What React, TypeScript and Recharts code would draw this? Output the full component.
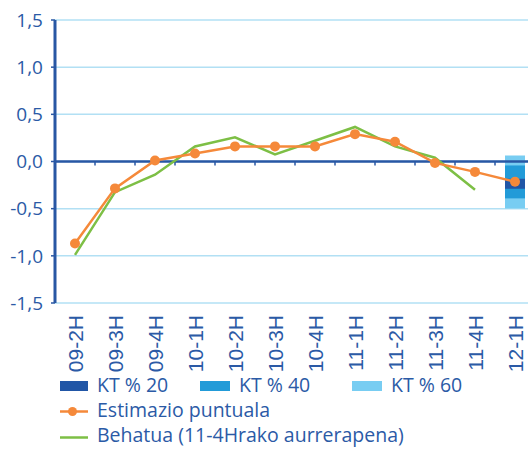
import React from 'react';
import {
  ComposedChart,
  Line,
  Bar,
  XAxis,
  YAxis,
  CartesianGrid,
  ReferenceLine,
  Legend,
} from 'recharts';

const categories = ['09-2H', '09-3H', '09-4H', '10-1H', '10-2H', '10-3H', '10-4H', '11-1H', '11-2H', '11-3H', '11-4H', '12-1H'];
const estimazio = [-0.87, -0.285, 0.01, 0.085, 0.16, 0.16, 0.16, 0.29, 0.21, -0.015, -0.11, -0.215];
const behatua: (number | null)[] = [-0.99, -0.325, -0.14, 0.16, 0.257, 0.074, 0.22, 0.366, 0.16, 0.04, -0.3, null];
const kt20: ([number, number] | null)[] = [null, null, null, null, null, null, null, null, null, null, null, [-0.289, -0.183]];
const kt40: ([number, number] | null)[] = [null, null, null, null, null, null, null, null, null, null, null, [-0.391, -0.042]];
const kt60: ([number, number] | null)[] = [null, null, null, null, null, null, null, null, null, null, null, [-0.497, 0.063]];
const yTicks = [-1.5, -1, -0.5, 0, 0.5, 1, 1.5];

const names = {
  kt20: 'KT % 20',
  kt40: 'KT % 40',
  kt60: 'KT % 60',
  est: 'Estimazio puntuala',
  obs: 'Behatua (11-4Hrako aurrerapena)',
};

const TEXT = '#2b5aa6';
const AXIS = '#2857a4';
const GRID = '#b2e0f4';
const ORANGE = '#f5893a';
const GREEN = '#7dbf45';
const C20 = '#2156a6';
const C40 = '#229bd8';
const C60 = '#78cdf2';

const data = categories.map((c, i) => ({
  cat: c,
  est: estimazio[i],
  obs: behatua[i],
  kt20: kt20[i],
  kt40: kt40[i],
  kt60: kt60[i],
}));

const XTick = (props: any) => {
  const { x, y, payload } = props;
  const ty = y + 4;
  return (
    <text
      x={x}
      y={ty}
      transform={`rotate(-90, ${x}, ${ty})`}
      textAnchor="end"
      dy="0.36em"
      fill={TEXT}
      fontSize={21}
      fontFamily="Liberation Sans, Arial, sans-serif"
    >
      {payload.value}
    </text>
  );
};

// zero line drawn as an axis with category-boundary ticks
const ZeroAxis = (props: any) => {
  const { x1, x2, y1 } = props;
  const n = categories.length;
  const step = (x2 - x1) / n;
  const ticks = [];
  for (let i = 1; i < n; i++) {
    const tx = x1 + i * step;
    ticks.push(<line key={i} x1={tx} x2={tx} y1={y1} y2={y1 + 4} stroke={AXIS} strokeWidth={1.5} />);
  }
  return (
    <g>
      <line x1={x1} x2={x2} y1={y1} y2={y1} stroke={AXIS} strokeWidth={2.5} />
      {ticks}
    </g>
  );
};

const legendText: React.CSSProperties = {
  position: 'absolute',
  color: TEXT,
  fontSize: 19.5,
  fontFamily: 'Open Sans, sans-serif',
  lineHeight: '24px',
  whiteSpace: 'nowrap',
};

const renderLegend = () => (
  <div style={{ position: 'relative', width: 528, height: 75 }}>
    <div style={{ position: 'absolute', left: 60, top: 6, width: 28, height: 10, background: C20 }} />
    <div style={{ ...legendText, left: 97, top: -2 }}>{names.kt20}</div>
    <div style={{ position: 'absolute', left: 200, top: 6, width: 30, height: 10, background: C40 }} />
    <div style={{ ...legendText, left: 239, top: -2 }}>{names.kt40}</div>
    <div style={{ position: 'absolute', left: 352, top: 6, width: 30, height: 10, background: C60 }} />
    <div style={{ ...legendText, left: 391, top: -2 }}>{names.kt60}</div>
    <svg style={{ position: 'absolute', left: 0, top: 0 }} width={100} height={75}>
      <line x1={60} x2={88} y1={36.5} y2={36.5} stroke={ORANGE} strokeWidth={2.5} />
      <circle cx={72.5} cy={36.5} r={4.5} fill={ORANGE} />
      <line x1={60} x2={88} y1={62.5} y2={62.5} stroke={GREEN} strokeWidth={2.5} />
    </svg>
    <div style={{ ...legendText, left: 97, top: 23 }}>{names.est}</div>
    <div style={{ ...legendText, left: 97, top: 48 }}>{names.obs}</div>
  </div>
);

export default function App() {
  return (
    <div style={{ position: 'absolute', left: 0, top: 0, width: 528, height: 450, overflow: 'hidden', background: '#fff' }}>
      <ComposedChart
        width={536}
        height={450}
        data={data}
        margin={{ top: 20, right: 1, bottom: 0, left: 0 }}
      >
        <CartesianGrid horizontal vertical={false} stroke={GRID} strokeWidth={1.5} />
        <XAxis
          dataKey="cat"
          xAxisId="cat"
          interval={0}
          height={72}
          axisLine={false}
          tickLine={false}
          tick={<XTick />}
        />
        <XAxis dataKey="cat" xAxisId="x40" hide height={0} />
        <XAxis dataKey="cat" xAxisId="x20" hide height={0} />
        <YAxis
          width={55}
          domain={[-1.5, 1.5]}
          ticks={yTicks}
          interval={0}
          axisLine={{ stroke: AXIS, strokeWidth: 3 }}
          tickLine={{ stroke: AXIS, strokeWidth: 1.5 }}
          tickSize={4}
          tickMargin={8}
          tick={{ fill: TEXT, fontSize: 19, fontFamily: 'Open Sans, sans-serif' }}
          tickFormatter={(v: number) => v.toFixed(1).replace('.', ',')}
        />
        <ReferenceLine y={0} xAxisId="cat" shape={<ZeroAxis />} />
        <Bar xAxisId="cat" dataKey="kt60" name={names.kt60} fill={C60} barSize={20} isAnimationActive={false} />
        <Bar xAxisId="x40" dataKey="kt40" name={names.kt40} fill={C40} barSize={20} isAnimationActive={false} />
        <Bar xAxisId="x20" dataKey="kt20" name={names.kt20} fill={C20} barSize={20} isAnimationActive={false} />
        <Line
          xAxisId="cat"
          dataKey="obs"
          name={names.obs}
          stroke={GREEN}
          strokeWidth={2.5}
          dot={false}
          activeDot={false}
          isAnimationActive={false}
        />
        <Line
          xAxisId="cat"
          dataKey="est"
          name={names.est}
          stroke={ORANGE}
          strokeWidth={2.5}
          dot={{ r: 5, fill: ORANGE, stroke: 'none' }}
          activeDot={false}
          isAnimationActive={false}
        />
        <Legend verticalAlign="bottom" height={75} content={renderLegend} wrapperStyle={{ left: 0, width: 528 }} />
      </ComposedChart>
    </div>
  );
}
